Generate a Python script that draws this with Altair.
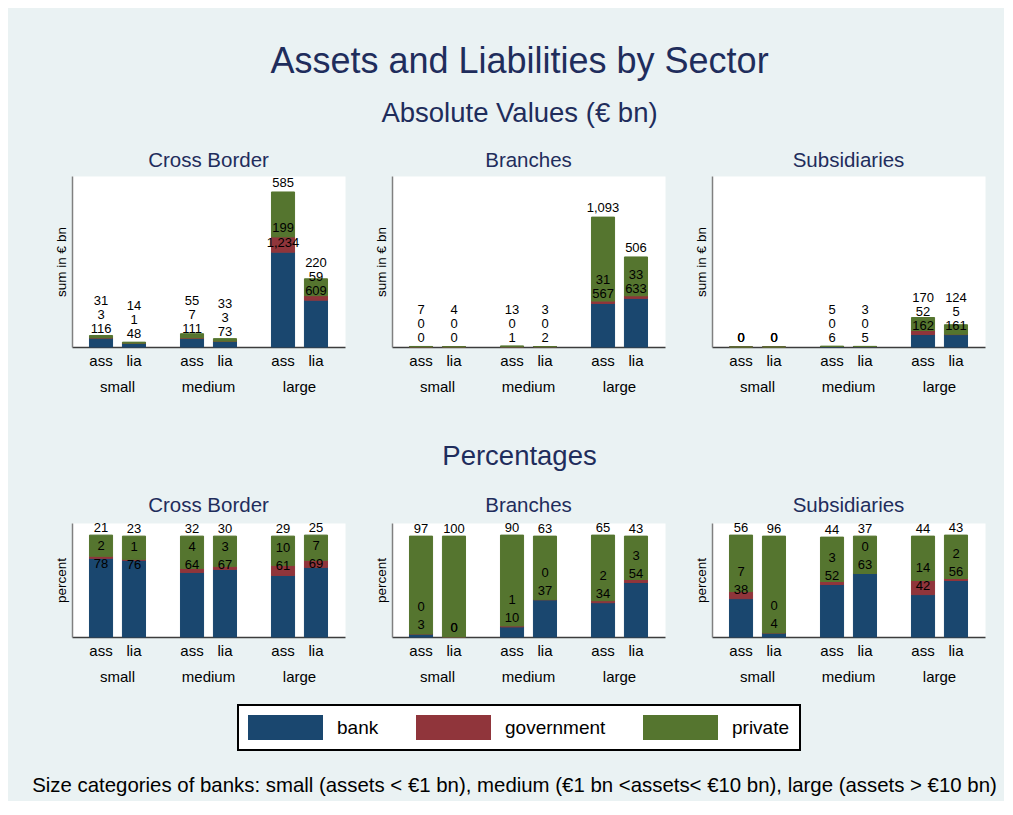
import altair as alt
import pandas as pd

# ---------------- data ----------------
sectors = ["Cross Border", "Branches", "Subsidiaries"]
sizes = ["small", "medium", "large"]
sides = ["ass", "lia"]
components = ["bank", "government", "private"]
colors = ["#1a476f", "#90353b", "#55752f"]

# bar order inside each panel: small ass, small lia, medium ass, medium lia, large ass, large lia
abs_bank = {"Cross Border": [116, 48, 111, 73, 1234, 609],
            "Branches": [0, 0, 1, 2, 567, 633],
            "Subsidiaries": [0, 0, 6, 5, 162, 161]}
abs_gov = {"Cross Border": [3, 1, 7, 3, 199, 59],
           "Branches": [0, 0, 0, 0, 31, 33],
           "Subsidiaries": [0, 0, 0, 0, 52, 5]}
abs_priv = {"Cross Border": [31, 14, 55, 33, 585, 220],
            "Branches": [7, 4, 13, 3, 1093, 506],
            "Subsidiaries": [0, 0, 5, 3, 170, 124]}

pct_bank = {"Cross Border": [78, 76, 64, 67, 61, 69],
            "Branches": [3, 0, 10, 37, 34, 54],
            "Subsidiaries": [38, 4, 52, 63, 42, 56]}
pct_gov = {"Cross Border": [2, 1, 4, 3, 10, 7],
           "Branches": [0, 0, 1, 0, 2, 3],
           "Subsidiaries": [7, 0, 3, 0, 14, 2]}
pct_priv = {"Cross Border": [21, 23, 32, 30, 29, 25],
            "Branches": [97, 100, 90, 63, 65, 43],
            "Subsidiaries": [56, 96, 44, 37, 44, 43]}

footnote = ("Size categories of banks: small (assets < \u20ac1 bn), medium (\u20ac1 bn <assets< \u20ac10 bn), "
            "large (assets > \u20ac10 bn)")

# ---------------- styling ----------------
FONT = "Liberation Sans"
NAVY = "#1f2d5c"
BG = "#eaf2f3"
PW = 273
H_ABS, H_PCT = 171, 114
YMAX_ABS, YMAX_PCT = 2226, 113

bars_index = [(s, d) for s in sizes for d in sides]


def build(bank, gov, priv, h, ymax, off_px, gap_px, top_down):
    k = ymax / h
    off, gap = off_px * k, gap_px * k
    rows = []
    for i, (sz, sd) in enumerate(bars_index):
        b, g, p = bank[i], gov[i], priv[i]
        bl = b + off
        gl = max(b + g + off, bl + gap)
        pl = max(b + g + p + off, gl + gap)
        if top_down:
            pl = b + g + p + off * 0.8
            gl = min(gl, pl - gap)
            bl = min(bl, gl - gap)
            if b + g == 0:
                gl = bl
        elif b + g + p == 0:
            gl = pl = bl
        for j, (c, v, ly) in enumerate(zip(components, [b, g, p], [bl, gl, pl])):
            rows.append({"size": sz, "side": sd, "component": c, "corder": j,
                         "value": v, "label_y": ly})
    return pd.DataFrame(rows)


def panel(sector, kind):
    if kind == "abs":
        df = build(abs_bank[sector], abs_gov[sector], abs_priv[sector],
                   H_ABS, YMAX_ABS, 9, 14, False)
        h, ymax, ytitle = H_ABS, YMAX_ABS, "sum in \u20ac bn"
    else:
        df = build(pct_bank[sector], pct_gov[sector], pct_priv[sector],
                   H_PCT, YMAX_PCT, 9, 18, True)
        h, ymax, ytitle = H_PCT, YMAX_PCT, "percent"

    yscale = alt.Scale(domain=[0, ymax], nice=False, zero=True)
    yaxis = alt.Axis(title=ytitle, labels=False, ticks=False, grid=False,
                     titleFontSize=13.5, titleFont=FONT, titleFontWeight="normal",
                     titleColor="black", titlePadding=4,
                     domainColor="#808080", domainWidth=1.5)
    x = alt.X("size:N", sort=sizes,
              scale=alt.Scale(paddingInner=0, paddingOuter=0),
              axis=alt.Axis(title=None, labelAngle=0, ticks=False, tickSize=0,
                            labelPadding=32, labelFontSize=15, labelColor="black",
                            labelFont=FONT, domainColor="#3c3c3c", domainWidth=1.5))
    xo = alt.XOffset("side:N", sort=sides,
                     scale=alt.Scale(paddingInner=0.3, paddingOuter=0.53))
    cscale = alt.Scale(domain=components, range=colors)

    base = alt.Chart(df)
    bars = base.mark_bar(strokeWidth=1).encode(
        x=x, xOffset=xo,
        y=alt.Y("value:Q", stack="zero", scale=yscale, axis=yaxis),
        color=alt.Color("component:N", scale=cscale, sort=components,
                        legend=alt.Legend(title=None)),
        stroke=alt.Stroke("component:N", scale=cscale, legend=None),
        order=alt.Order("corder:Q"),
    )
    labels = base.mark_text(fontSize=13, font=FONT, color="black", baseline="middle").encode(
        x=x, xOffset=xo,
        y=alt.Y("label_y:Q", scale=yscale, axis=yaxis),
        text=alt.Text("value:Q", format=",.0f"),
    )
    side_df = pd.DataFrame([{"size": s, "side": d} for s, d in bars_index])
    side_lab = alt.Chart(side_df).mark_text(fontSize=15, font=FONT, color="black",
                                            baseline="middle").encode(
        x=x, xOffset=xo, y=alt.value(h + 14), text="side:N")

    return alt.layer(bars, labels, side_lab).properties(
        width=PW, height=h,
        view=alt.ViewBackground(fill="white", stroke="transparent"),
        title=alt.TitleParams(sector, fontSize=20.5, font=FONT, color=NAVY,
                              fontWeight="normal", offset=5, anchor="middle"))


row_abs = alt.hconcat(*[panel(s, "abs") for s in sectors], spacing=27,
                      title=alt.TitleParams("Absolute Values (\u20ac bn)", fontSize=27.5, font=FONT,
                                            color=NAVY, fontWeight="normal", anchor="middle",
                                            offset=22.5))
row_pct = alt.hconcat(*[panel(s, "pct") for s in sectors], spacing=27,
                      title=alt.TitleParams("Percentages", fontSize=27.5, font=FONT,
                                            color=NAVY, fontWeight="normal", anchor="middle",
                                            offset=25))

inner = alt.vconcat(row_abs, row_pct, spacing=48,
                    title=alt.TitleParams("Assets and Liabilities by Sector", fontSize=36,
                                          font=FONT, color=NAVY, fontWeight="normal",
                                          anchor="middle", offset=19))

note = alt.Chart(pd.DataFrame({"note": [footnote]})).mark_text(
    fontSize=20.4, font=FONT, color="black").encode(text="note:N").properties(
    width=885, height=20, view=alt.ViewBackground(fill="transparent", stroke="transparent"))

chart = alt.vconcat(inner, note, spacing=90).properties(
    background=BG,
    padding={"left": 23, "top": 36, "right": 6, "bottom": 4},
).configure_view(stroke="transparent").configure_legend(
    orient="none", legendX=166, legendY=529, direction="horizontal",
    symbolType="M-1,-1L5,-1L5,1L-1,1Z", symbolSize=625, symbolStrokeWidth=0,
    symbolOpacity=1, labelFontSize=19, labelFont=FONT, labelColor="black",
    labelOffset=64, columnPadding=37, padding=10, strokeColor="black",
    strokeWidth=2, fillColor="white", cornerRadius=0,
).configure_concat(spacing=27)

chart.save("out.html", embed_options={"renderer": "svg", "actions": False})
